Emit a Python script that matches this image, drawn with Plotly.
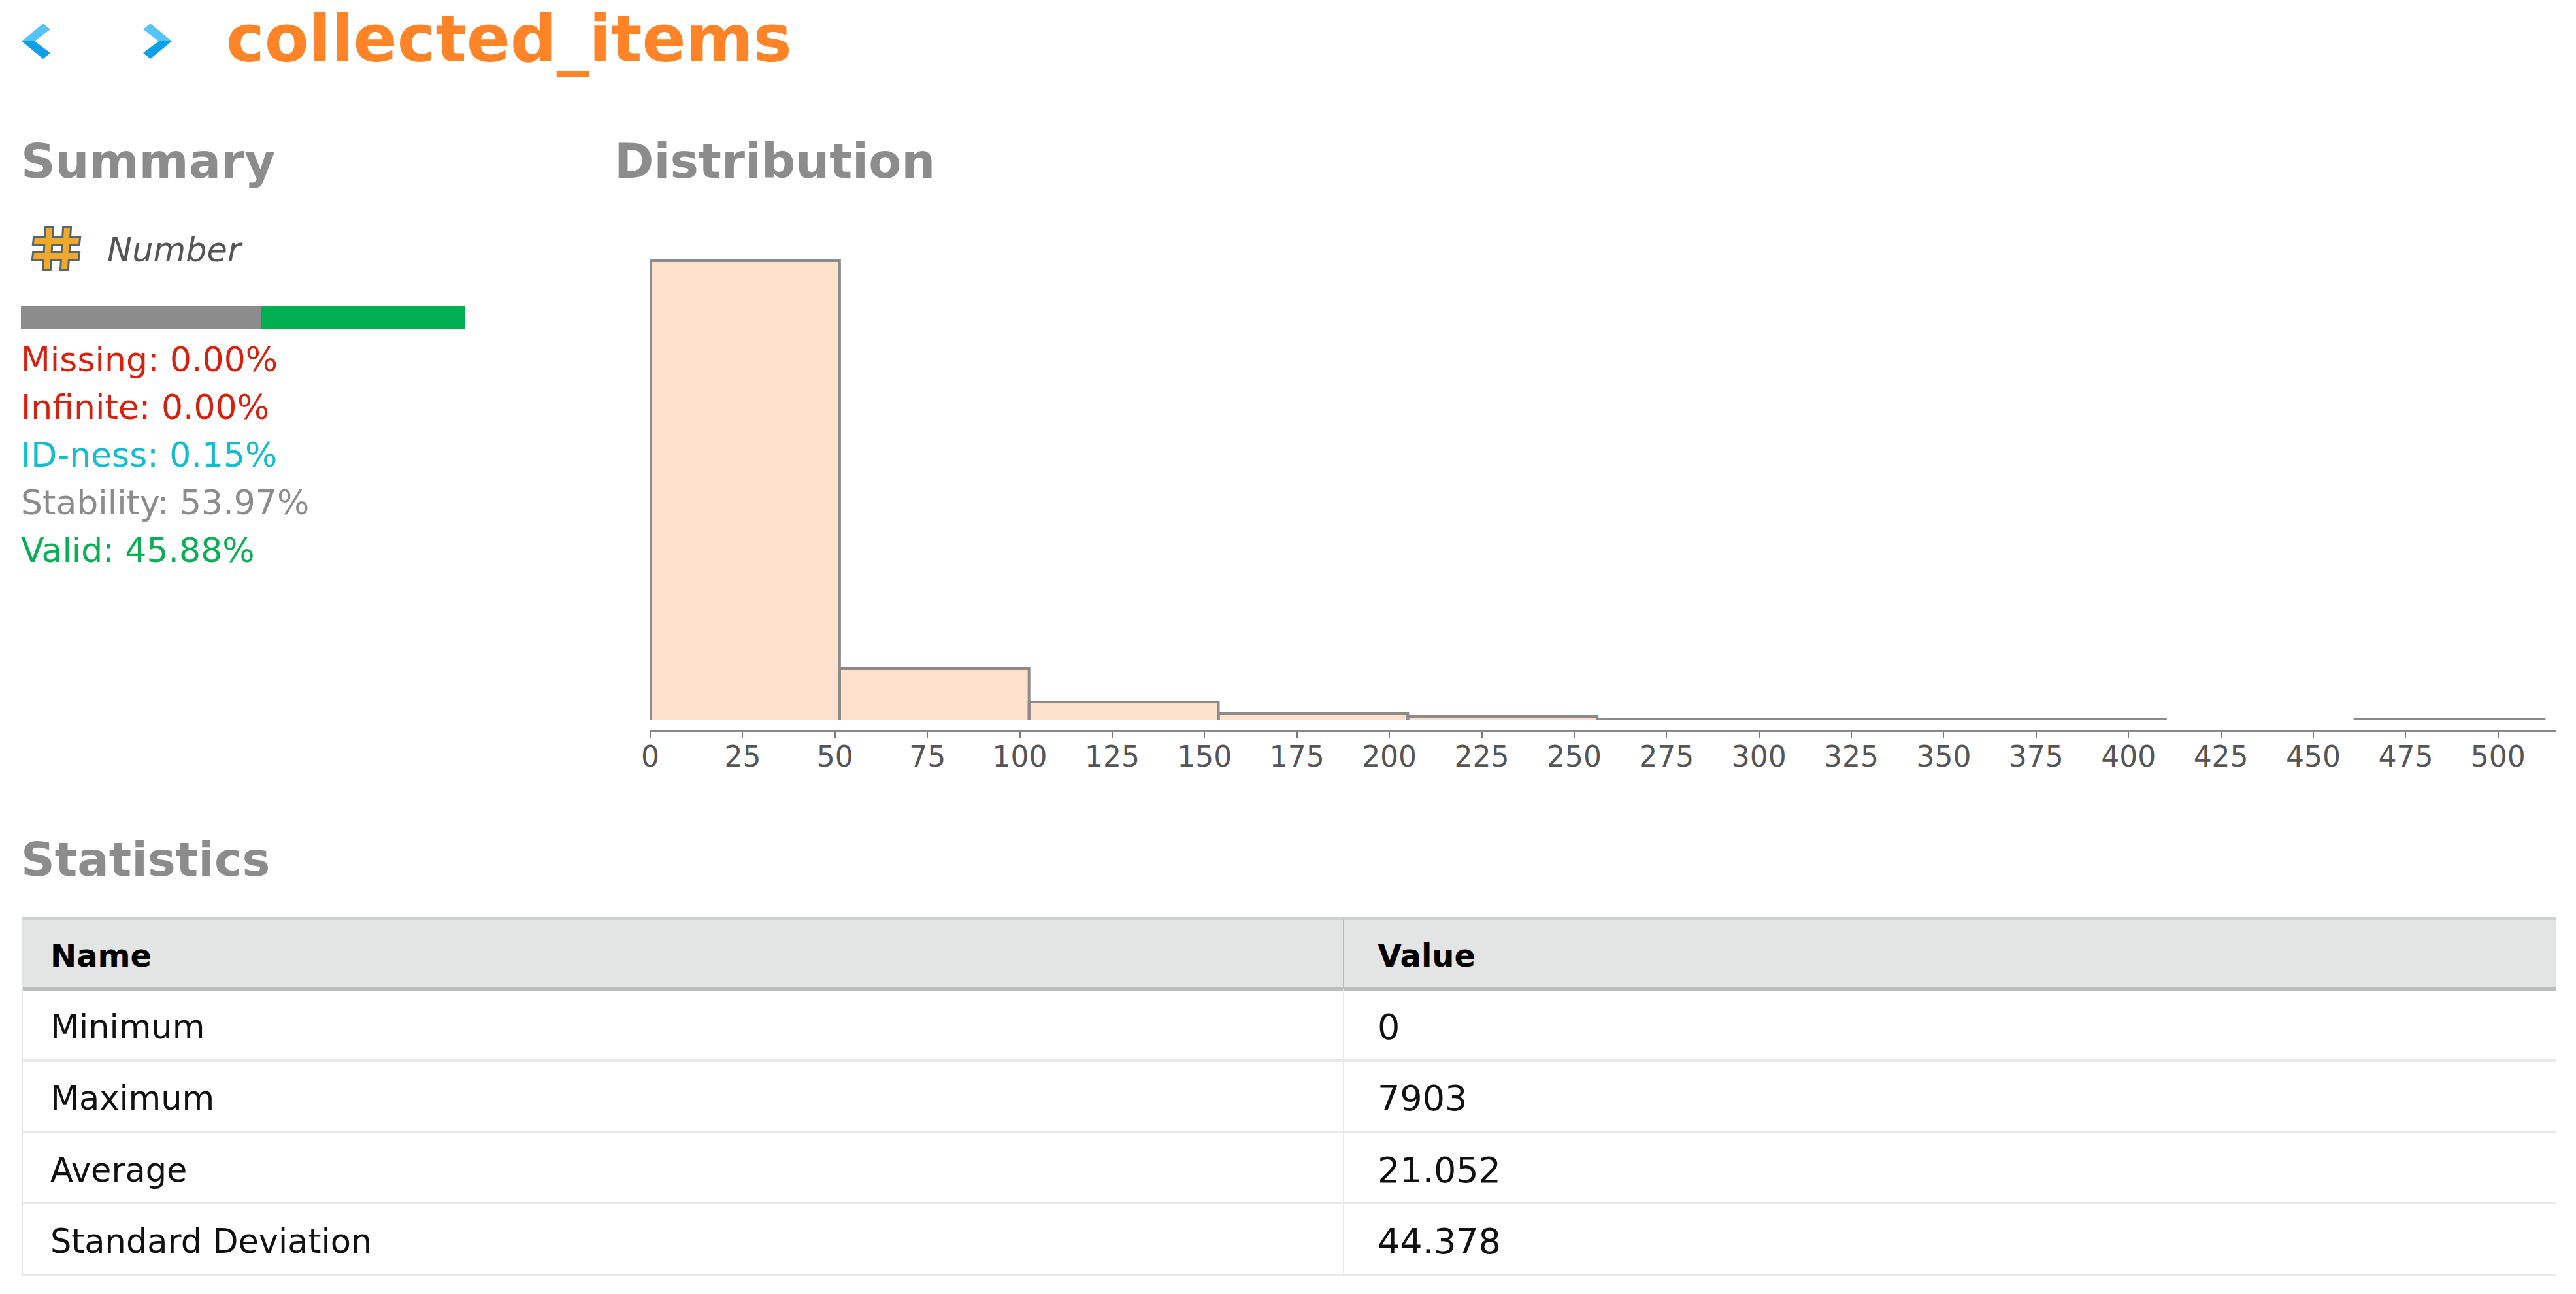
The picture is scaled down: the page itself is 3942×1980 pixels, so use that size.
import plotly.graph_objects as go

W = 3942
H = 1980

# histogram (no y axis in the original, heights in picture units)
bin_edges = [0, 51.25, 102.5, 153.75, 205, 256.25, 307.5, 358.75, 410, 461.25, 512.5]
bin_counts = [703, 79, 28, 10, 6, 2, 2, 2, 0, 2]
tick_vals = [0, 25, 50, 75, 100, 125, 150, 175, 200, 225, 250, 275, 300, 325, 350, 375, 400, 425, 450, 475, 500]

# quality bar
quality_parts = [54.12, 45.88]
quality_colors = ['#8c8c8c', '#00b050']

summary_lines = ['Missing: 0.00%', 'Infinite: 0.00%', 'ID-ness: 0.15%', 'Stability: 53.97%', 'Valid: 45.88%']
summary_colors = ['#d8200f', '#d8200f', '#14bcd0', '#8c8c8c', '#0aae55']
summary_y = [550, 623, 696, 769, 842]

table_names = ['Minimum', 'Maximum', 'Average', 'Standard Deviation']
table_values = ['0', '7903', '21.052', '44.378']
row_text_y = [1571, 1680, 1790, 1899]
row_lines_y = [1623, 1732, 1841, 1951]

FONT = 'DejaVu Sans'


def px(x):
    return x / W


def py(y):
    return 1 - y / H


def texto(x, y, s, size, color, bold=False, italic=False):
    return dict(x=px(x), y=py(y), xref='paper', yref='paper', text=s, showarrow=False,
                xanchor='left', yanchor='middle',
                font=dict(family=FONT, size=size, color=color,
                          weight='bold' if bold else 'normal',
                          style='italic' if italic else 'normal'))


def caminho(pontos, fill, line=None, lw=0):
    d = 'M ' + ' L '.join(f'{px(a):.5f},{py(b):.5f}' for a, b in pontos) + ' Z'
    return dict(type='path', path=d, xref='paper', yref='paper', fillcolor=fill,
                line=dict(color=line or fill, width=lw), layer='above')


def retangulo(x0, y0, x1, y1, fill, line=None, lw=0):
    return dict(type='rect', xref='paper', yref='paper', x0=px(x0), x1=px(x1), y0=py(y0), y1=py(y1),
                fillcolor=fill, line=dict(color=line or fill, width=lw), layer='below')


fig = go.Figure()

# peach fill of the bars, no line (the original has no bottom edge)
fig.add_trace(go.Bar(x=bin_edges[:-1], y=bin_counts,
                     width=[b - a for a, b in zip(bin_edges[:-1], bin_edges[1:])],
                     offset=0, marker=dict(color='#fde1cd', line=dict(width=0)),
                     xaxis='x', yaxis='y', showlegend=False))

# outline: left, top and right side of every non empty bin
out_x = []
out_y = []
for a, b, c in zip(bin_edges[:-1], bin_edges[1:], bin_counts):
    if c > 0:
        out_x += [a, a, b, b, None]
        out_y += [0, c, c, 0, None]
fig.add_trace(go.Scatter(x=out_x, y=out_y, mode='lines', line=dict(color='#8b8b8b', width=4),
                         xaxis='x', yaxis='y', showlegend=False))

# stacked quality bar
for parte, cor in zip(quality_parts, quality_colors):
    fig.add_trace(go.Bar(x=[parte], y=[0], orientation='h', width=1, marker=dict(color=cor, line=dict(width=0)),
                         xaxis='x2', yaxis='y2', showlegend=False))

shapes = []
# table
shapes.append(retangulo(33, 1406, 3912, 1514, '#e3e4e4'))
shapes.append(retangulo(33, 1403, 3912, 1407, '#cfd0d0'))
shapes.append(retangulo(33, 1511, 3912, 1516, '#bcbdbd'))
for y in row_lines_y:
    shapes.append(retangulo(33, y - 2, 3912, y + 2, '#e8e9e9'))
shapes.append(retangulo(33, 1406, 35, 1951, '#e3e4e4'))
shapes.append(retangulo(2055, 1406, 2057, 1514, '#b8b9b9'))
shapes.append(retangulo(2055, 1514, 2057, 1951, '#e8e9e9'))

# < and > arrows
for x0, s in [(33, 1), (263, -1)]:
    shapes.append(caminho([(x0, 63), (x0 + s * 33, 36), (x0 + s * 44, 45), (x0 + s * 20, 63)], '#56c3f9'))
    shapes.append(caminho([(x0, 63), (x0 + s * 20, 63), (x0 + s * 44, 81), (x0 + s * 33, 90)], '#0d9fe8'))

# # icon
traços = [[(71, 349), (80, 349), (76, 411), (67, 411)], [(98, 349), (107, 349), (103, 411), (94, 411)],
          [(53, 364), (121, 364), (120, 373), (52, 373)], [(52, 387), (120, 387), (119, 396), (51, 396)]]
for p in traços:
    shapes.append(caminho(p, '#566670', '#566670', 6))
for p in traços:
    shapes.append(caminho(p, '#f0a92a'))

annotations = [
    texto(344, 60, 'collected_items', 99, '#ff8427', bold=True),
    texto(30, 246, 'Summary', 73, '#8c8c8c', bold=True),
    texto(938, 246, 'Distribution', 73, '#8c8c8c', bold=True),
    texto(30, 1315, 'Statistics', 72, '#8c8c8c', bold=True),
    texto(162, 382, 'Number', 51, '#555555', italic=True),
    texto(75, 1462, 'Name', 48, '#000000', bold=True),
    texto(2106, 1462, 'Value', 48, '#000000', bold=True),
]
for s, c, y in zip(summary_lines, summary_colors, summary_y):
    annotations.append(texto(30, y, s, 52, c))
for s, v, y in zip(table_names, table_values, row_text_y):
    annotations.append(texto(75, y, s, 51, '#111111'))
    annotations.append(texto(2106, y, v, 54, '#111111'))

fig.update_layout(
    width=W, height=H, autosize=False,
    margin=dict(l=0, r=0, t=0, b=0, autoexpand=False),
    paper_bgcolor='white', plot_bgcolor='white',
    barmode='stack', bargap=0,
    shapes=shapes, annotations=annotations,
    xaxis=dict(domain=[px(995), px(3911)], range=[0, 515.6], anchor='free', position=py(1118),
               tickmode='array', tickvals=tick_vals, ticks='outside', ticklen=10, tickwidth=2,
               tickcolor='#777777', showline=True, linecolor='#888888', linewidth=3,
               showgrid=False, zeroline=False, ticklabelstandoff=-10,
               tickfont=dict(family=FONT, size=44, color='#555555')),
    yaxis=dict(domain=[py(1102), py(380)], range=[0, 722], visible=False),
    xaxis2=dict(domain=[px(32), px(712)], range=[0, 100], visible=False, anchor='y2'),
    yaxis2=dict(domain=[py(504), py(468)], range=[-0.5, 0.5], visible=False, anchor='x2'),
)

fig.write_html('out.html', config=dict(displayModeBar=False),
               post_script="document.body.style.margin='0';")
